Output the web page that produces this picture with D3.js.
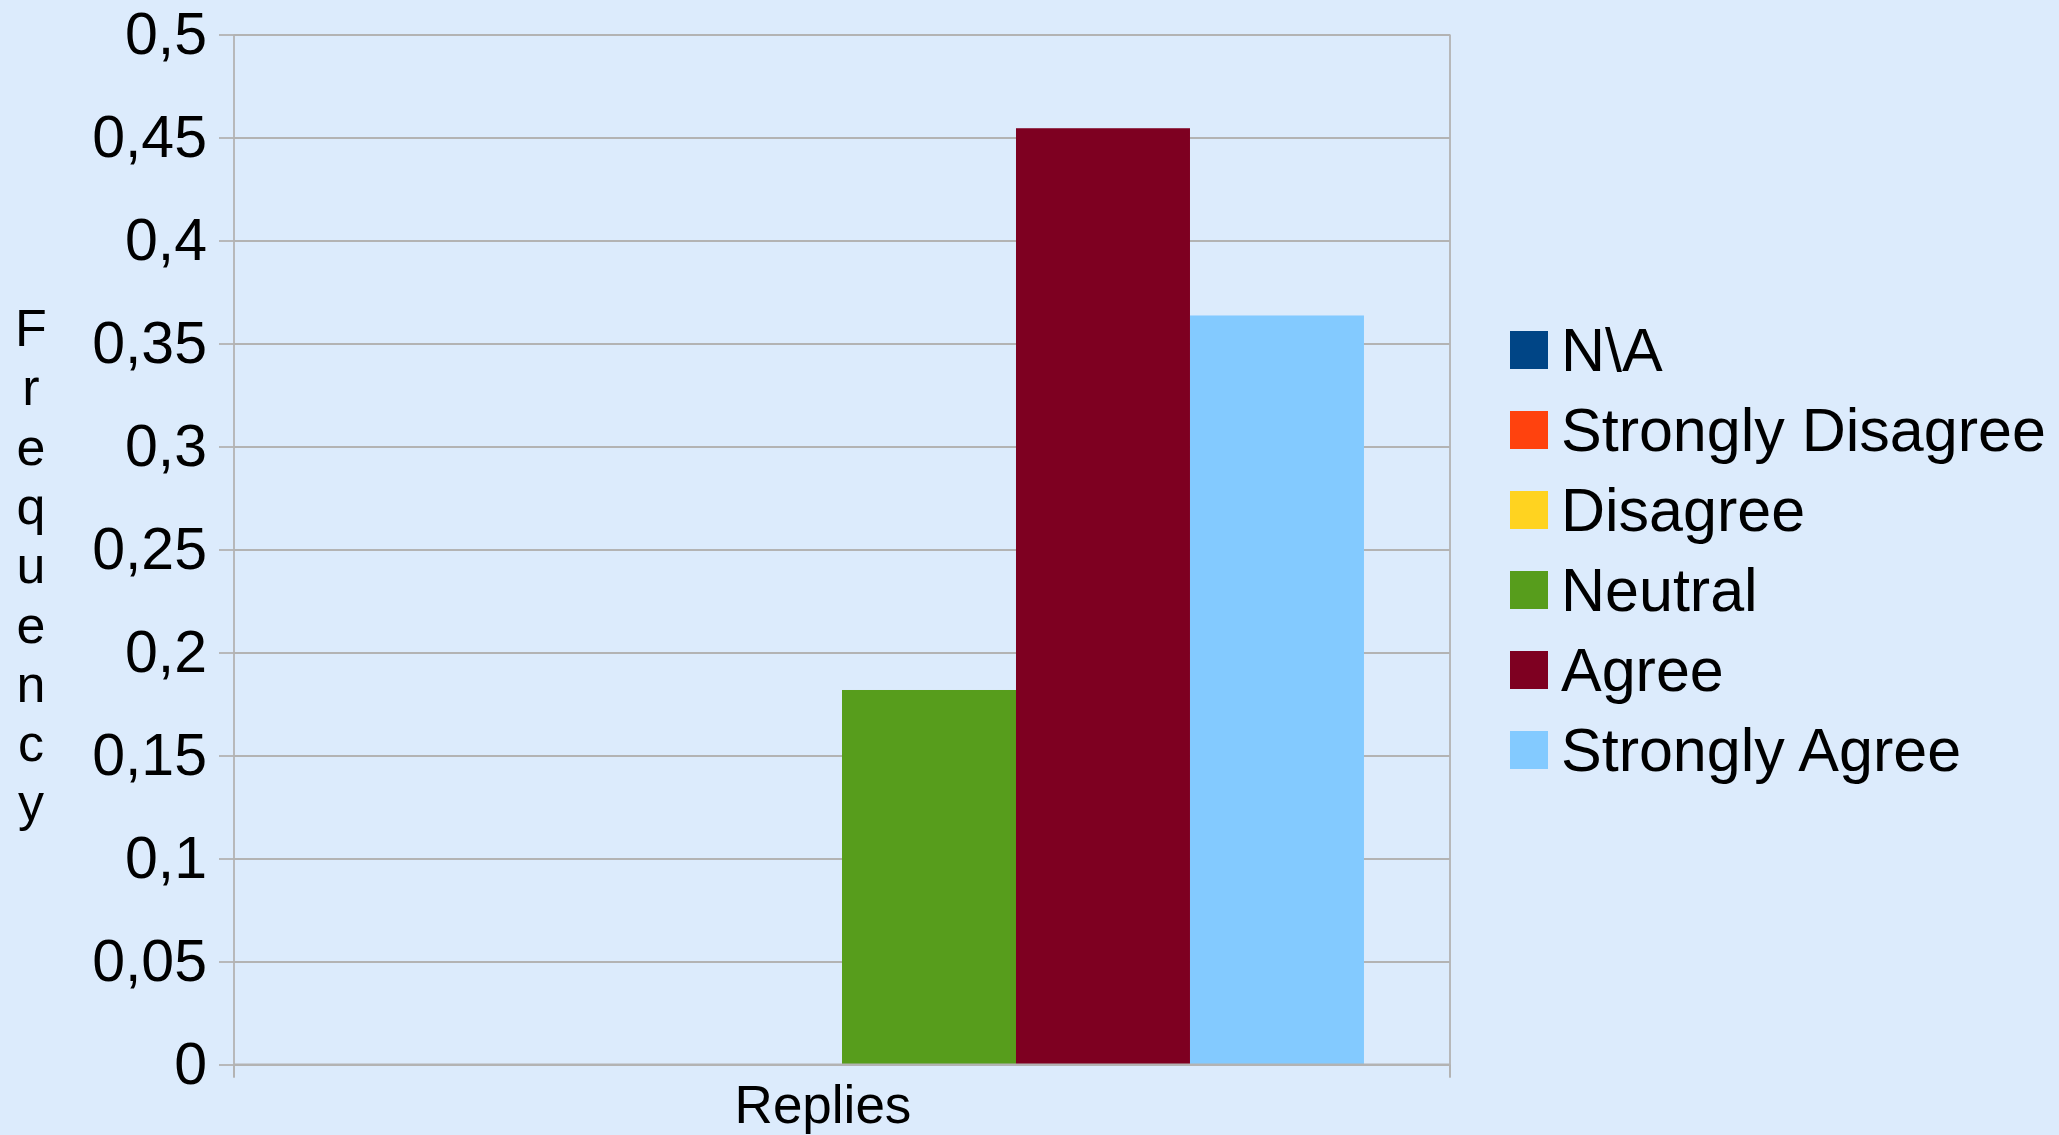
<!DOCTYPE html>
<html>
<head>
<meta charset="utf-8">
<script src="https://cdn.jsdelivr.net/npm/d3@7"></script>
<style>
  html, body { margin: 0; padding: 0; background: #dcebfc; }
  svg { display: block; }
  text { font-family: "Liberation Sans", Arial, sans-serif; fill: #000; }
</style>
</head>
<body>
<svg id="chart" width="2059" height="1135"></svg>
<script>
// ---- data ----
const categories = ["Replies"];
const series = ["N\\A", "Strongly Disagree", "Disagree", "Neutral", "Agree", "Strongly Agree"];
const values = [0, 0, 0, 0.1818, 0.4545, 0.3636];
const colors = ["#004586", "#ff420e", "#ffd320", "#579d1c", "#7e0021", "#83caff"];
const yTicks = [0, 0.05, 0.1, 0.15, 0.2, 0.25, 0.3, 0.35, 0.4, 0.45, 0.5];
const yTickLabels = ["0", "0,05", "0,1", "0,15", "0,2", "0,25", "0,3", "0,35", "0,4", "0,45", "0,5"];
const yTitle = "Frequency";

// ---- layout ----
const svg = d3.select("#chart");
const plot = { left: 234, right: 1450, top: 34.5, bottom: 1064.5 };
const gridColor = "#b3b3b3";

const y = d3.scaleLinear().domain([0, 0.5]).range([plot.bottom, plot.top]);
const x0 = d3.scaleBand().domain(categories).range([plot.left, plot.right]).paddingInner(0).paddingOuter(0.0824);
const x1 = d3.scaleBand().domain(series).range([0, x0.bandwidth()]).padding(0);

// gridlines
const grid = svg.append("g").attr("transform", `translate(${plot.left},0)`)
  .call(d3.axisLeft(y).tickValues(yTicks).tickSize(-(plot.right - plot.left)).tickFormat(""));
grid.select(".domain").remove();
grid.selectAll("line").attr("stroke", gridColor).attr("stroke-width", 1.8);

// right border
svg.append("line")
  .attr("x1", plot.right).attr("x2", plot.right)
  .attr("y1", plot.top).attr("y2", plot.bottom + 13)
  .attr("stroke", gridColor).attr("stroke-width", 1.8);

// bars
const groups = svg.append("g").selectAll("g").data(categories).join("g")
  .attr("transform", d => `translate(${x0(d)},0)`);
groups.selectAll("rect").data(series.map((s, i) => ({ s, v: values[i], c: colors[i] }))).join("rect")
  .attr("x", d => x1(d.s))
  .attr("width", x1.bandwidth())
  .attr("y", d => y(d.v))
  .attr("height", d => y(0) - y(d.v))
  .attr("fill", d => d.c);

// y axis
const yAxis = svg.append("g").attr("transform", `translate(${plot.left},0)`)
  .call(d3.axisLeft(y).tickValues(yTicks).tickFormat((d, i) => yTickLabels[i]).tickSize(15).tickPadding(12).tickSizeOuter(0));
yAxis.select(".domain").attr("d", `M0,${plot.top}V${plot.bottom + 13}`).attr("stroke", gridColor).attr("stroke-width", 1.8);
yAxis.selectAll(".tick line").attr("stroke", gridColor).attr("stroke-width", 1.8);
yAxis.selectAll(".tick text").attr("font-size", 59).attr("fill", "#000")
  .attr("font-family", "Liberation Sans, Arial, sans-serif");

// x axis ticks (category boundaries)
svg.append("line")
  .attr("x1", plot.left).attr("x2", plot.right)
  .attr("y1", plot.bottom).attr("y2", plot.bottom)
  .attr("stroke", gridColor).attr("stroke-width", 1.8);
svg.append("g").selectAll("line").data([plot.left, plot.right]).join("line")
  .attr("x1", d => d).attr("x2", d => d)
  .attr("y1", plot.bottom).attr("y2", plot.bottom + 13)
  .attr("stroke", gridColor).attr("stroke-width", 1.8);

// x category label
svg.append("g").selectAll("text").data(categories).join("text")
  .attr("x", d => x0(d) + x0.bandwidth() / 2 - 19)
  .attr("y", 1123)
  .attr("text-anchor", "middle")
  .attr("font-size", 53)
  .text(d => d);

// y title (stacked letters)
svg.append("g").selectAll("text").data(yTitle.split("")).join("text")
  .attr("x", 31)
  .attr("y", (d, i) => 346 + i * 59.3)
  .attr("text-anchor", "middle")
  .attr("font-size", 52)
  .text(d => d);

// legend
const legend = svg.append("g").attr("transform", "translate(1510,331)");
const li = legend.selectAll("g").data(series).join("g")
  .attr("transform", (d, i) => `translate(0,${i * 80})`);
li.append("rect").attr("width", 38).attr("height", 38).attr("fill", (d, i) => colors[i]);
li.append("text").attr("x", 51).attr("y", 19).attr("dy", "0.35em")
  .attr("font-size", 61).text(d => d);
</script>
</body>
</html>
